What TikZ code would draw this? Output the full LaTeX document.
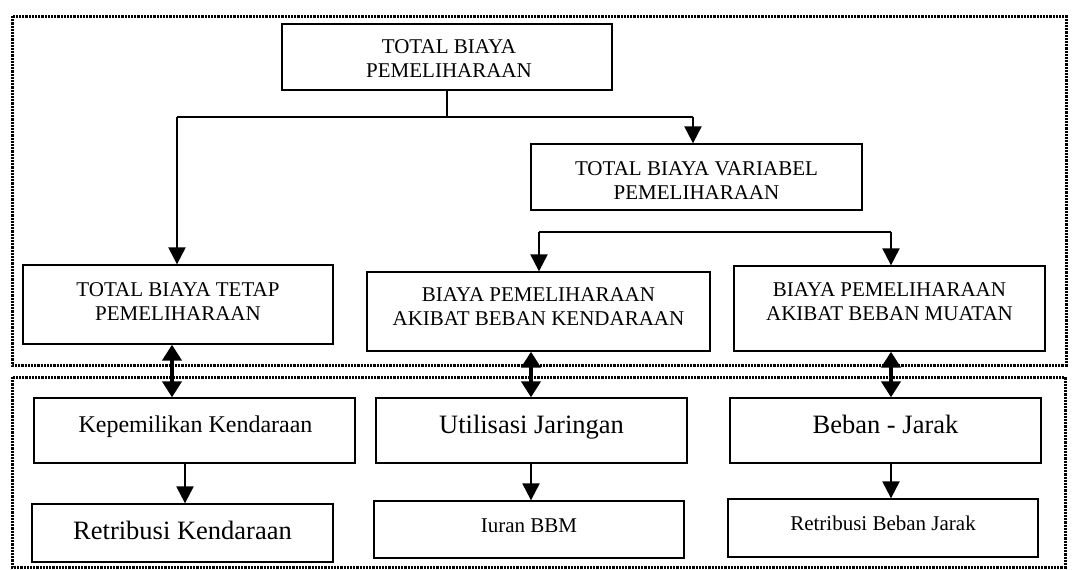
\documentclass[tikz,border=0pt]{standalone}
\usepackage{fontspec}
\setmainfont{Liberation Serif}
\usetikzlibrary{arrows.meta,calc}
\begin{document}
\begin{tikzpicture}[x=1pt,y=-1pt,
  box/.style={draw, line width=1.3pt, inner sep=0pt},
  txt/.style={inner sep=0pt, align=center},
  tA/.style={txt, font=\fontsize{21}{24}\selectfont},
  tB/.style={txt, font=\fontsize{24}{28}\selectfont},
  tC/.style={txt, font=\fontsize{26.5}{30}\selectfont},
  frame/.style={line width=3pt, dash pattern=on 2.2pt off 1pt},
  conn/.style={line width=1.6pt},
  arr/.style={line width=2.2pt, -{Triangle[length=17pt,width=17pt]}},
  dbl/.style={line width=4.2pt, {Triangle[length=16pt,width=19pt]}-{Triangle[length=16pt,width=19pt]}}
  ]
\useasboundingbox (0,0) rectangle (1072,570);
\draw[frame] (12,16) rectangle (1066,365);
\draw[frame] (12,377) rectangle (1065,567);

% boxes
\node[box, minimum width=330pt, minimum height=66pt] (tbp) at (447,57) {};
\node[tA] (tbpt) at (449,59) {TOTAL BIAYA\\PEMELIHARAAN};
\node[box, minimum width=331pt, minimum height=66pt] (tbv) at (696.5,177) {};
\node[tA] (tbvt) at (696.5,180.5) {TOTAL BIAYA VARIABEL\\PEMELIHARAAN};
\node[box, minimum width=310pt, minimum height=79pt] (tbt) at (178,304.5) {};
\node[tA] (tbtt) at (178,302) {TOTAL BIAYA TETAP\\PEMELIHARAAN};
\node[box, minimum width=343pt, minimum height=79pt] (bpk) at (538.5,311.5) {};
\node[tA] (bpkt) at (538.5,307) {BIAYA PEMELIHARAAN\\AKIBAT BEBAN KENDARAAN};
\node[box, minimum width=311pt, minimum height=85pt] (bpm) at (889.5,308.5) {};
\node[tA] (bpmt) at (889.5,302) {BIAYA PEMELIHARAAN\\AKIBAT BEBAN MUATAN};

\node[box, minimum width=321pt, minimum height=65pt] (kep) at (194.5,430.5) {};
\node[tB, anchor=base] (kept) at (195.5,432) {Kepemilikan Kendaraan};
\node[box, minimum width=311pt, minimum height=65pt] (util) at (531.5,430.5) {};
\node[tC, anchor=base] (utilt) at (531.5,433) {Utilisasi Jaringan};
\node[box, minimum width=311pt, minimum height=65pt] (beban) at (885.5,430.5) {};
\node[tC, anchor=base] (bebant) at (885.5,433) {Beban - Jarak};

\node[box, minimum width=301pt, minimum height=58pt] (rk) at (182.5,533) {};
\node[tC, anchor=base] (rkt) at (182.5,539) {Retribusi Kendaraan};
\node[box, minimum width=310pt, minimum height=57pt] (iuran) at (529,529.5) {};
\node[tA, anchor=base] (iurant) at (529,532) {Iuran BBM};
\node[box, minimum width=310pt, minimum height=58pt] (rbj) at (883,528) {};
\node[tA, anchor=base] (rbjt) at (883,530) {Retribusi Beban Jarak};

% connectors top
\coordinate (hl) at (177,117);
\coordinate (hr) at (693,117);
\draw[conn] (tbp.south) -- (tbp.south |- hl);
\draw[conn] (hl) -- (hr);
\draw[arr] (hl) -- (hl |- tbt.north);
\draw[arr] (hr) -- (hr |- tbv.north);
\coordinate (vl) at (539,232);
\coordinate (vr) at (891,232);
\draw[conn] (vl) -- (vr);
\draw[arr] (vl) -- (vl |- bpk.north);
\draw[arr] (vr) -- (vr |- bpm.north);

% double arrows
\coordinate (d1) at (172,0);
\coordinate (d2) at (531,0);
\coordinate (d3) at (891,0);
\draw[dbl] (tbt.south -| d1) -- (kep.north -| d1);
\draw[dbl] (bpk.south -| d2) -- (util.north -| d2);
\draw[dbl] (bpm.south -| d3) -- (beban.north -| d3);

% lower arrows
\coordinate (a1) at (185,0);
\coordinate (a2) at (531,0);
\coordinate (a3) at (891,0);
\draw[arr] (kep.south -| a1) -- (rk.north -| a1);
\draw[arr] (util.south -| a2) -- (iuran.north -| a2);
\draw[arr] (beban.south -| a3) -- (rbj.north -| a3);
\end{tikzpicture}
\end{document}
